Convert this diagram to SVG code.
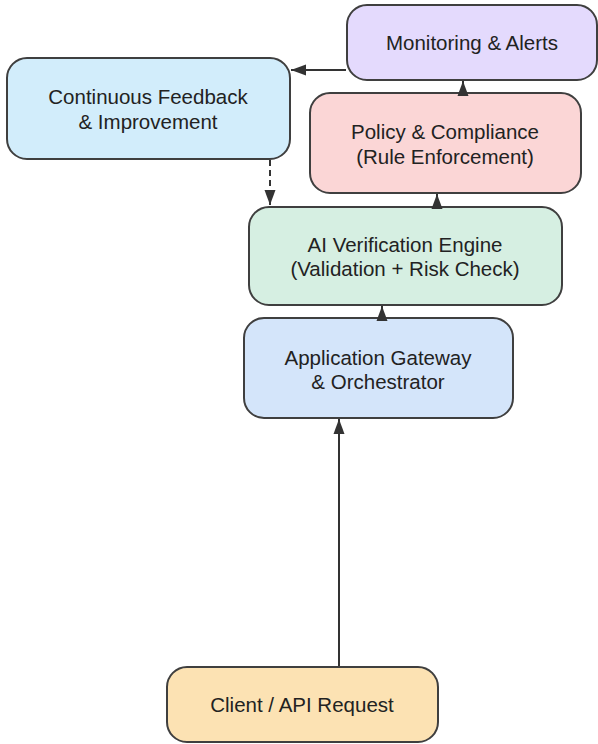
<svg xmlns="http://www.w3.org/2000/svg" width="598" height="744" viewBox="0 0 598 744">
  <style>
    .box { stroke: #3f3f3f; stroke-width: 2; }
    .lbl { font-family: "Liberation Sans", Arial, sans-serif; font-size: 20.5px; fill: #222; text-anchor: middle; }
    .edge { stroke: #333; stroke-width: 2; fill: none; }
    .dash { stroke-dasharray: 6 4; }
  </style>
  <defs>
    <marker id="head" markerWidth="16" markerHeight="12" refX="15" refY="6" orient="auto" markerUnits="userSpaceOnUse">
      <path d="M0,0.5 L15,6 L0,11.5 Z" fill="#333"/>
    </marker>
  </defs>
  <rect width="598" height="744" fill="#ffffff"/>

  <g id="monitoring">
    <rect class="box" x="347" y="5" width="250" height="75" rx="20" fill="#e4dafd"/>
    <text class="lbl" x="472" y="50">Monitoring &amp; Alerts</text>
  </g>

  <g id="feedback">
    <rect class="box" x="7" y="58" width="283" height="101" rx="20" fill="#d2edfb"/>
    <text class="lbl" x="148" y="104">Continuous Feedback</text>
    <text class="lbl" x="148" y="129">&amp; Improvement</text>
  </g>

  <g id="policy">
    <rect class="box" x="310" y="93" width="271" height="100" rx="20" fill="#fbd6d6"/>
    <text class="lbl" x="445" y="139">Policy &amp; Compliance</text>
    <text class="lbl" x="445" y="164">(Rule Enforcement)</text>
  </g>

  <g id="engine">
    <rect class="box" x="249" y="207" width="313" height="98" rx="20" fill="#d6efe2"/>
    <text class="lbl" x="405" y="252">AI Verification Engine</text>
    <text class="lbl" x="405" y="276">(Validation + Risk Check)</text>
  </g>

  <g id="gateway">
    <rect class="box" x="244" y="318" width="269" height="100" rx="20" fill="#d4e5fa"/>
    <text class="lbl" x="378" y="365">Application Gateway</text>
    <text class="lbl" x="378" y="389">&amp; Orchestrator</text>
  </g>

  <g id="client">
    <rect class="box" x="167" y="667" width="271" height="75" rx="20" fill="#fce2b3"/>
    <text class="lbl" x="302" y="712">Client / API Request</text>
  </g>

  <!-- connectors drawn last so the heads sit over the box borders -->
  <g id="edges">
    <line class="edge" x1="339" y1="666" x2="339" y2="419" marker-end="url(#head)"/>
    <line class="edge" x1="382" y1="320" x2="382" y2="306" marker-end="url(#head)"/>
    <line class="edge" x1="437" y1="209" x2="437" y2="194" marker-end="url(#head)"/>
    <line class="edge" x1="463" y1="96" x2="463" y2="81" marker-end="url(#head)"/>
    <line class="edge" x1="346" y1="70" x2="291" y2="70" marker-end="url(#head)"/>
    <line class="edge dash" x1="270" y1="160" x2="270" y2="205" marker-end="url(#head)"/>
  </g>
</svg>
